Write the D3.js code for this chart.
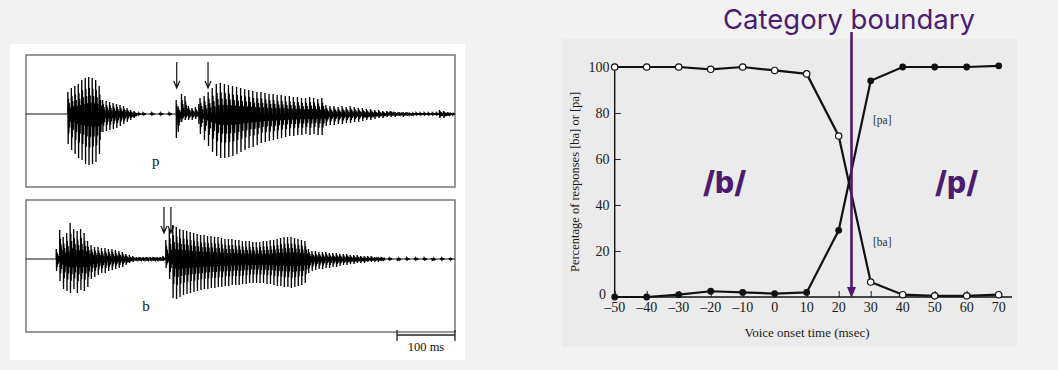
<!DOCTYPE html>
<html>
<head>
<meta charset="utf-8">
<script src="https://cdn.jsdelivr.net/npm/d3@7"></script>
<style>
  body { margin: 0; background: #f2f2f2; }
  svg { display: block; }
</style>
</head>
<body>
<script>
// ---- data: identification curves (right) ----
var vot = [-50, -40, -30, -20, -10, 0, 10, 20, 30, 40, 50, 60, 70];
var baResp = [100, 100, 100, 99, 100, 98.5, 97, 70, 6.5, 1, 0.5, 0.5, 1];
var paResp = [0, 0, 1, 2.5, 2, 1.5, 2, 29, 94, 100, 100, 100, 100.5];
var xTicks = [-50, -40, -30, -20, -10, 0, 10, 20, 30, 40, 50, 60, 70];
var yTicks = [0, 20, 40, 60, 80, 100];
var boundaryVot = 24;

// ---- data: waveforms (left), pulses as [time ms, amplitude up, amplitude down] ----
var pulsesP = [
  [72,22,30],[78,26,36],[84,28,40],[90,30,44],[96,34,46],[102,36,50],[108,37,51],[114,36,50],
  [120,34,48],[126,28,40],[132,14,18],[138,13,17],[144,12,16],[150,11,15],[156,10,14],[162,9,12],
  [168,8,10],[174,6,8],[180,4,6],[186,3,4],[192,1,1],[200,1,1],[215,1,1],[230,1,1],[245,1,1],
  [259,14,24],[262,8,18],[268,20,8],[274,18,6],[280,8,6],[286,6,6],[292,7,5],[298,10,10],
  [300,16,20],[307,18,26],[314,22,32],[321,26,38],[328,30,42],[335,31,44],[342,30,44],[349,29,43],
  [356,28,42],[363,27,40],[370,26,38],[377,25,36],[384,24,34],[391,23,33],[398,22,31],[405,22,29],
  [412,21,28],[419,20,27],[426,20,26],[433,19,25],[440,19,24],[447,18,23],[454,18,22],[461,17,22],
  [468,17,21],[475,16,21],[482,16,20],[489,17,21],[496,16,20],[503,15,21],[510,16,21],[517,9,12],
  [524,8,11],[531,8,11],[538,7,10],[545,8,10],[552,7,9],[559,8,9],[566,7,8],[573,6,8],[580,6,7],
  [587,5,6],[594,5,6],[601,4,5],[608,4,4],[615,3,4],[622,3,3],[629,3,3],[636,2,3],[643,2,2],
  [650,2,3],[657,2,2],[664,1,2],[671,1,1],[678,1,1],[685,1,1],[692,1,1],[699,1,1],[706,1,1],
  [713,4,4],[720,3,4],[727,2,2],[734,1,1]
];
var pulsesB = [
  [52,10,12],[58,29,22],[64,22,30],[70,26,32],[76,36,34],[82,30,30],[88,28,34],[94,30,31],
  [100,26,32],[106,18,28],[112,14,20],[118,12,18],[124,12,16],[130,11,14],[136,11,14],[142,10,12],
  [148,10,11],[154,9,10],[160,8,9],[166,7,8],[172,5,6],[178,4,4],[184,3,3],[190,2,2],[196,2,2],
  [202,2,2],[208,2,2],[214,2,2],[220,2,2],[226,2,2],[232,2,2],[236,3,2],
  [241,19,9],[247,30,20],[253,34,39],[259,32,40],[265,30,38],[271,29,36],[277,28,35],[283,27,34],
  [289,26,33],[295,25,32],[301,24,31],[307,24,30],[313,23,30],[319,23,29],[325,22,29],[331,22,28],
  [337,21,28],[343,20,27],[349,20,27],[355,20,26],[361,19,26],[367,19,26],[373,18,25],[379,18,25],
  [385,18,24],[391,17,24],[397,17,24],[403,17,24],[409,18,24],[415,18,25],[421,19,25],[427,19,26],
  [433,20,27],[439,21,27],[445,22,28],[451,22,28],[457,22,29],[463,21,28],[469,20,27],[475,19,26],
  [481,18,24],[487,10,14],[493,8,12],[499,8,11],[505,7,10],[511,7,10],[517,7,9],[523,6,9],
  [529,6,8],[535,6,8],[541,5,7],[547,5,6],[553,5,6],[559,4,5],[565,4,5],[571,4,4],[577,3,4],
  [583,3,4],[589,3,3],[595,3,3],[601,2,3],[607,2,3],[613,2,2],[625,1,1],[640,1,2],[655,1,1],
  [670,1,1],[685,1,1],[700,1,2],[715,1,1],[730,1,1]
];
var arrowsP = [260, 314];
var arrowsB = [238, 250];

var purple = "#4b1c6f";
var W = 1058, H = 370;

var svg = d3.select("body").append("svg")
    .attr("width", W)
    .attr("height", H);

svg.append("rect").attr("width", W).attr("height", H).attr("fill", "#f2f2f2");

// ================= left: waveforms =================
svg.append("rect")
    .attr("x", 10).attr("y", 44).attr("width", 455).attr("height", 316)
    .attr("fill", "#ffffff");

var xW = d3.scaleLinear().domain([0, 740]).range([26, 455]);

function drawWave(pulses, base, arrows, label, labelMs) {
  var top = base - 59, bottom = base + 73;
  var yW = d3.scaleLinear().domain([-66, 66]).range([base + 66, base - 66]);
  var g = svg.append("g");

  g.append("rect")
      .attr("x", 26).attr("y", top)
      .attr("width", 429).attr("height", bottom - top)
      .attr("fill", "none").attr("stroke", "#6e6e6e").attr("stroke-width", 1.4);

  g.append("line")
      .attr("x1", 26).attr("x2", 455)
      .attr("y1", base).attr("y2", base)
      .attr("stroke", "#111").attr("stroke-width", 1.2);

  var line = d3.line().x(function(d) { return xW(d[0]); }).y(function(d) { return yW(d[1]); });

  // one damped oscillation per glottal pulse
  var shape = [[0, 0], [0.03, 1], [0.12, -1], [0.22, 0.7], [0.32, -0.65], [0.44, 0.5], [0.56, -0.45], [0.7, 0.3], [0.84, -0.25], [1, 0]];
  pulses.forEach(function(p, i) {
    var next = i < pulses.length - 1 ? pulses[i + 1][0] : p[0] + 6;
    var per = Math.min(next - p[0], 7);
    var pts = shape.map(function(s) {
      var a = s[1] >= 0 ? s[1] * p[1] : s[1] * p[2];
      return [p[0] + s[0] * per, a];
    });
    g.append("path")
        .attr("d", line(pts))
        .attr("fill", "none")
        .attr("stroke", "#000")
        .attr("stroke-width", 1.3);
  });

  arrows.forEach(function(t) {
    var ax = xW(t), y1 = top + 7, y2 = top + 33;
    g.append("path")
        .attr("d", "M" + ax + "," + y1 + "V" + y2 + "M" + (ax - 3) + "," + (y2 - 7) + "L" + ax + "," + y2 + "L" + (ax + 3) + "," + (y2 - 7))
        .attr("fill", "none").attr("stroke", "#111").attr("stroke-width", 1.2);
  });

  g.append("text")
      .attr("x", xW(labelMs)).attr("y", base + 52)
      .attr("text-anchor", "middle")
      .style("font-family", "'Liberation Serif', serif")
      .style("font-size", "15px")
      .attr("fill", "#111")
      .text(label);
}

drawWave(pulsesP, 114, arrowsP, "p", 224);
drawWave(pulsesB, 259, arrowsB, "b", 207);

// scale bar 100 ms
var sb = svg.append("g").attr("stroke", "#222").attr("stroke-width", 1.3);
sb.append("line").attr("x1", xW(640)).attr("x2", xW(740)).attr("y1", 335).attr("y2", 335);
sb.append("line").attr("x1", xW(640)).attr("x2", xW(640)).attr("y1", 330).attr("y2", 341);
sb.append("line").attr("x1", xW(740)).attr("x2", xW(740)).attr("y1", 330).attr("y2", 341);
svg.append("text")
    .attr("x", xW(690)).attr("y", 351)
    .attr("text-anchor", "middle")
    .style("font-family", "'Liberation Serif', serif")
    .style("font-size", "12.5px")
    .attr("fill", "#111")
    .text("100 ms");

// ================= right: identification function =================
svg.append("rect")
    .attr("x", 562).attr("y", 39).attr("width", 455).attr("height", 308)
    .attr("fill", "#ebebeb");

var x = d3.scaleLinear().domain([-50, 70]).range([614.7, 998.7]);
var y = d3.scaleLinear().domain([0, 100]).range([297, 67]);
var serif = "'Liberation Serif', serif";

// axes with inward ticks
var xAxis = d3.axisTop(x).tickValues(xTicks).tickSize(6).tickFormat("");
var gx = svg.append("g").attr("transform", "translate(0,297)").call(xAxis);
gx.select(".domain").remove();
gx.selectAll("line").attr("stroke", "#222").attr("stroke-width", 1);
svg.append("line").attr("x1", 614).attr("x2", 1012).attr("y1", 297).attr("y2", 297)
    .attr("stroke", "#111").attr("stroke-width", 1.4);

svg.selectAll(".xlab").data(xTicks).enter().append("text")
    .attr("class", "xlab")
    .attr("x", function(d) { return x(d); })
    .attr("y", 312)
    .attr("text-anchor", "middle")
    .style("font-family", serif).style("font-size", "14px")
    .attr("fill", "#1a1a1a")
    .text(function(d) { return d < 0 ? "\u2013" + Math.abs(d) : d; });

var yAxis = d3.axisRight(y).tickValues(yTicks).tickSize(6).tickFormat("");
var gy = svg.append("g").attr("transform", "translate(614.7,0)").call(yAxis);
gy.select(".domain").remove();
gy.selectAll("line").attr("stroke", "#222").attr("stroke-width", 1);
svg.append("line").attr("x1", 614.7).attr("x2", 614.7).attr("y1", 66).attr("y2", 297)
    .attr("stroke", "#111").attr("stroke-width", 1.4);

svg.selectAll(".ylab").data(yTicks).enter().append("text")
    .attr("class", "ylab")
    .attr("x", function(d) { return d === 0 ? 606 : 609.5; })
    .attr("y", function(d) { return d === 0 ? y(d) + 2 : y(d) + 4.5; })
    .attr("text-anchor", "end")
    .style("font-family", serif).style("font-size", "14px")
    .attr("fill", "#1a1a1a")
    .text(function(d) { return d; });

svg.append("text")
    .attr("transform", "translate(579,182) rotate(-90)")
    .attr("text-anchor", "middle")
    .style("font-family", serif).style("font-size", "12.5px")
    .attr("fill", "#1a1a1a")
    .text("Percentage of responses [ba] or [pa]");

svg.append("text")
    .attr("x", 807).attr("y", 337)
    .attr("text-anchor", "middle")
    .style("font-family", serif).style("font-size", "13px")
    .attr("fill", "#1a1a1a")
    .text("Voice onset time (msec)");

// curves
var lineC = d3.line().x(function(d) { return x(d[0]); }).y(function(d) { return y(d[1]); });
var baData = vot.map(function(v, i) { return [v, baResp[i]]; });
var paData = vot.map(function(v, i) { return [v, paResp[i]]; });

[baData, paData].forEach(function(data) {
  svg.append("path").attr("d", lineC(data))
      .attr("fill", "none").attr("stroke", "#111").attr("stroke-width", 2.2);
});

svg.selectAll(".ba").data(baData).enter().append("circle")
    .attr("class", "ba")
    .attr("cx", function(d) { return x(d[0]); })
    .attr("cy", function(d) { return y(d[1]); })
    .attr("r", 3.2)
    .attr("fill", "#fff").attr("stroke", "#111").attr("stroke-width", 1.2);

svg.selectAll(".pa").data(paData).enter().append("circle")
    .attr("class", "pa")
    .attr("cx", function(d) { return x(d[0]); })
    .attr("cy", function(d) { return y(d[1]); })
    .attr("r", 3.4)
    .attr("fill", "#111");

svg.append("text").attr("x", 873).attr("y", 124)
    .style("font-family", serif).style("font-size", "11.5px").attr("fill", "#333")
    .text("[pa]");
svg.append("text").attr("x", 873).attr("y", 246)
    .style("font-family", serif).style("font-size", "11.5px").attr("fill", "#333")
    .text("[ba]");

// category boundary annotation
var bx = x(boundaryVot);
svg.append("line")
    .attr("x1", bx).attr("x2", bx).attr("y1", 32).attr("y2", 290)
    .attr("stroke", purple).attr("stroke-width", 2.6);
svg.append("path")
    .attr("d", "M" + (bx - 4.5) + ",287L" + (bx + 4.5) + ",287L" + bx + ",298Z")
    .attr("fill", purple);

svg.append("text")
    .attr("x", 723).attr("y", 29)
    .style("font-family", "Inter, sans-serif").style("font-size", "27.5px")
    .attr("fill", purple)
    .text("Category boundary");

svg.append("text")
    .attr("x", 703).attr("y", 193)
    .style("font-family", "Inter, sans-serif").style("font-size", "30px").style("font-weight", 800)
    .attr("fill", purple)
    .text("/b/");
svg.append("text")
    .attr("x", 935).attr("y", 193)
    .style("font-family", "Inter, sans-serif").style("font-size", "30px").style("font-weight", 800)
    .attr("fill", purple)
    .text("/p/");
</script>
</body>
</html>
